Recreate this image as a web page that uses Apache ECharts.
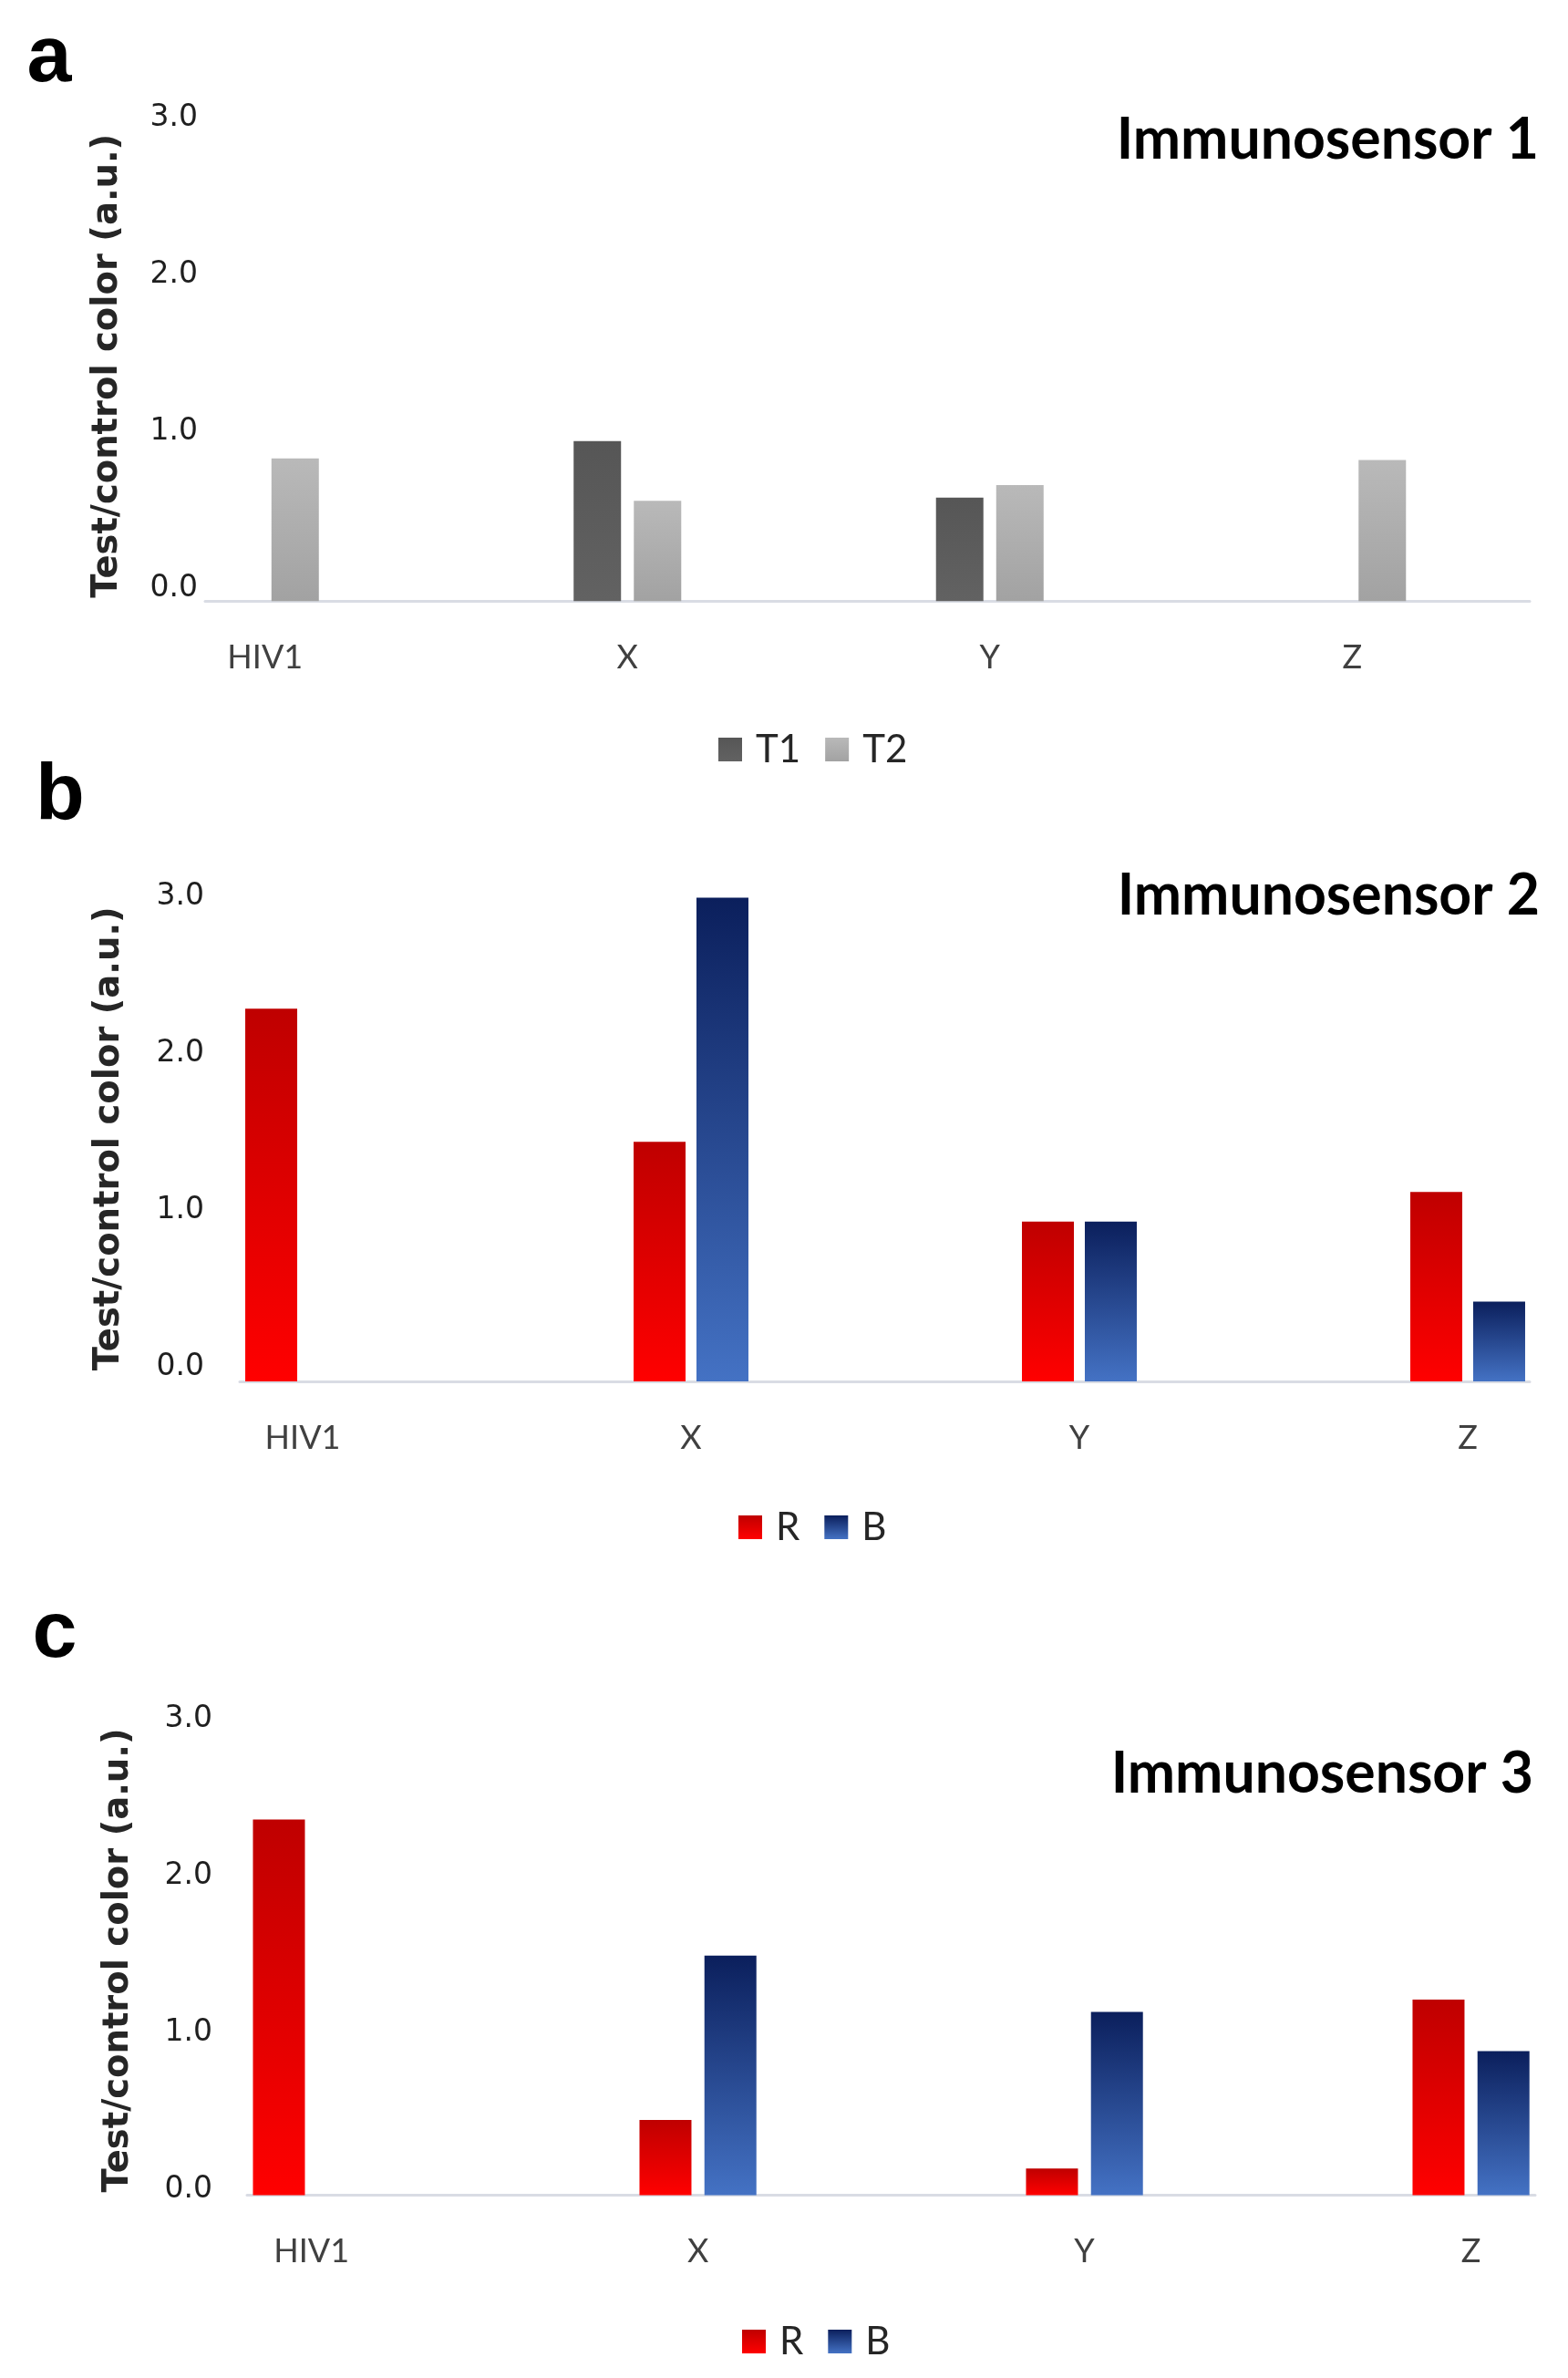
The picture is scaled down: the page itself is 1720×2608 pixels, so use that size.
<!DOCTYPE html>
<html>
<head>
<meta charset="utf-8">
<script src="https://cdn.jsdelivr.net/npm/echarts@6/dist/echarts.min.js"></script>
<style>
html,body{margin:0;padding:0;background:#fff;}
#chart{width:1720px;height:2608px;}
</style>
</head>
<body>
<div id="chart"></div>
<script>
// ---- data ----
const categories = ['HIV1', 'X', 'Y', 'Z'];
const seriesNamesA = ['T1', 'T2'];
const seriesNamesBC = ['R', 'B'];
const t1Values = ['-', 1.02, 0.66, '-'];
const t2Values = [0.91, 0.64, 0.74, 0.90];
const rValues2 = [2.38, 1.53, 1.02, 1.21];
const bValues2 = ['-', 3.09, 1.02, 0.51];
const rValues3 = [2.40, 0.48, 0.17, 1.25];
const bValues3 = ['-', 1.53, 1.17, 0.92];
const yTickValues = [0, 1, 2, 3];
const panelTitles = ['Immunosensor 1', 'Immunosensor 2', 'Immunosensor 3'];
const panelLetters = ['a', 'b', 'c'];
const yAxisTitle = 'Test/control color (a.u.)';

// ---- styling / layout ----
const grad = (top, bottom) => new echarts.graphic.LinearGradient(0, 0, 0, 1, [
  {offset: 0, color: top}, {offset: 1, color: bottom}
]);
const colT1 = grad('#565656', '#626262');
const colT2 = grad('#b9b9b9', '#a2a2a2');
const colR = grad('#bf0000', '#ff0000');
const colB = grad('#0b1f5c', '#4472c4');

const panels = [
  {gridLeft: 92, gridWidth: 1590, top: 143.3, height: 516, max: 3, barWidth: 52, barGap: '27%',
   yOffset: -133, labelLH: 28, nameGap: 88, baseLeft: 225, baseRight: 1678, axisY: 659.3,
   legendLeft: 783, legendTop: 796, titleRight: 1688, titleY: 153, letterX: 54, letterY: 65},
  {gridLeft: 119, gridWidth: 1704, top: 982.7, height: 532.3, max: 3.1, barWidth: 57, barGap: '21%',
   yOffset: -113, labelLH: 32, nameGap: 93, baseLeft: 263, baseRight: 1678, axisY: 1515,
   legendLeft: 805, legendTop: 1649, titleRight: 1689, titleY: 982, letterX: 66, letterY: 874},
  {gridLeft: 129.6, gridWidth: 1696, top: 1892.4, height: 515.1, max: 3, barWidth: 57, barGap: '25%',
   yOffset: -111.4, labelLH: 13, nameGap: 92, baseLeft: 271, baseRight: 1684, axisY: 2407.5,
   legendLeft: 809, legendTop: 2542, titleRight: 1682, titleY: 1945, letterX: 60, letterY: 1793}
];

const grids = [], xAxes = [], yAxes = [], legends = [], graphics = [];
panels.forEach((p, i) => {
  grids.push({left: p.gridLeft, width: p.gridWidth, top: p.top, height: p.height,
              containLabel: false, outerBoundsMode: 'none'});
  xAxes.push({
    type: 'category', gridIndex: i, data: categories,
    axisLine: {show: false}, axisTick: {show: false}, splitLine: {show: false},
    axisLabel: {margin: 44, fontFamily: 'Lato', fontSize: 36, color: '#404040'}
  });
  yAxes.push({
    type: 'value', gridIndex: i, min: 0, max: p.max, interval: 1,
    offset: p.yOffset,
    axisLine: {show: false}, axisTick: {show: false}, splitLine: {show: false},
    axisLabel: {
      margin: 8, showMaxLabel: p.max === 3, fontFamily: 'DejaVu Sans', fontSize: 33, color: '#1f1f1f',
      verticalAlign: 'bottom', lineHeight: p.labelLH,
      formatter: v => yTickValues.indexOf(v) >= 0 ? v.toFixed(1) : ''
    },
    name: yAxisTitle, nameLocation: 'middle', nameRotate: 90, nameGap: p.nameGap,
    nameTextStyle: {fontFamily: 'DejaVu Sans', fontWeight: 'bold', fontSize: 38.5, color: '#262626'}
  });
  legends.push({
    left: p.legendLeft, top: p.legendTop, orient: 'horizontal',
    data: i === 0 ? seriesNamesA : seriesNamesBC,
    itemWidth: 26, itemHeight: 26, itemGap: 27, icon: 'rect',
    textStyle: {fontFamily: 'Lato', fontSize: 42, color: '#262626', padding: [0, 0, 0, 10]}
  });
  graphics.push({
    type: 'text', right: 1720 - p.titleRight, top: p.titleY - 31,
    style: {text: panelTitles[i], fontFamily: 'Lato', fontWeight: 'bold', fontSize: 62.5, fill: '#000'}
  });
  graphics.push({
    type: 'text', x: p.letterX, y: p.letterY,
    style: {text: panelLetters[i], fontFamily: 'Liberation Sans', fontWeight: 'bold', fontSize: 88,
            fill: '#000', align: 'center', verticalAlign: 'middle'}
  });
});
// baseline grids (visible category axis line)
panels.forEach((p, i) => {
  grids.push({left: p.baseLeft, width: p.baseRight - p.baseLeft, top: p.axisY - 10, height: 10,
              outerBoundsMode: 'none'});
  xAxes.push({
    type: 'value', gridIndex: 3 + i, min: 0, max: 1,
    axisLine: {show: true, lineStyle: {color: '#d9dce4', width: 3}},
    axisTick: {show: false}, axisLabel: {show: false}, splitLine: {show: false}
  });
  yAxes.push({type: 'value', gridIndex: 3 + i, show: false, splitLine: {show: false}});
});

const mk = (name, data, color, idx) => ({
  name, type: 'bar', data, xAxisIndex: idx, yAxisIndex: idx,
  barWidth: panels[idx].barWidth, barGap: panels[idx].barGap,
  itemStyle: {color}, clip: false, emphasis: {disabled: true}
});

const series = [
  mk('T1', t1Values, colT1, 0),
  mk('T2', t2Values, colT2, 0),
  mk('R', rValues2, colR, 1),
  mk('B', bValues2, colB, 1),
  mk('R', rValues3, colR, 2),
  mk('B', bValues3, colB, 2)
];

const chart = echarts.init(document.getElementById('chart'), null, {renderer: 'canvas'});
chart.setOption({
  backgroundColor: '#ffffff',
  animation: false,
  grid: grids, xAxis: xAxes, yAxis: yAxes, legend: legends,
  graphic: graphics, series
});
</script>
</body>
</html>
